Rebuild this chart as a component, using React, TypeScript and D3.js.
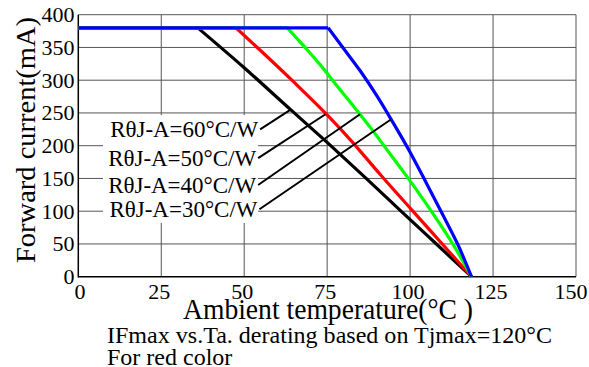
import React from "react";
import * as d3 from "d3";

// ---- data ----
const xTicks = [0, 25, 50, 75, 100, 125, 150];
const yTicks = [0, 50, 100, 150, 200, 250, 300, 350, 400];
const maxCurrent = 380;

// derating curves, from the break point down: [Ta (°C), IF (mA)]
const curve60: [number, number][] = [
  [36, 380], [50, 319], [64, 255], [75, 205], [87, 149], [97.5, 99], [108, 49.5], [118.5, 0],
];
const curve50: [number, number][] = [
  [47.5, 380], [55, 345], [65, 297], [75, 247], [82, 209], [91, 156], [100.5, 102], [109.5, 51], [118.5, 0],
];
const curve40: [number, number][] = [
  [63, 380], [68, 352], [73, 323], [78, 291], [83, 260], [88, 228], [93, 194], [98, 160], [103, 125], [108, 88], [113, 49], [118.5, 0],
];
const curve30: [number, number][] = [
  [75.3, 380], [80, 348], [85, 314], [90, 276], [95, 234], [100, 190], [105, 142], [110, 93], [114.5, 48], [118.5, 0],
];

const seriesNames = ["RθJ-A=60°C/W", "RθJ-A=50°C/W", "RθJ-A=40°C/W", "RθJ-A=30°C/W"];
const seriesColors = ["#000000", "#ff0000", "#00ff00", "#0000ff"];
const seriesData = [curve60, curve50, curve40, curve30];

// leader lines: label-side anchor [Ta, IF] and curve-side point [Ta, IF]
const leaderStart: [number, number][] = [[54.8, 225], [54.2, 181], [54.2, 140], [54.6, 103]];
const leaderEnd: [number, number][] = [[64, 255], [74.5, 248], [84.9, 248], [94.2, 240]];

const xTitle = "Ambient temperature(°C )";
const yTitle = "Forward current(mA)";
const caption1 = "IFmax vs.Ta. derating based on Tjmax=120°C";
const caption2 = "For red color";

const W = 589;
const H = 367;
const FONT = '"Liberation Serif", "Times New Roman", "DejaVu Serif", serif';

export default function App() {
  const x = d3.scaleLinear().domain([0, 150]).range([78.3, 576]);
  const y = d3.scaleLinear().domain([0, 400]).range([276.7, 14.7]);
  const curveLine = d3
    .line<[number, number]>()
    .x((d) => x(d[0]))
    .y((d) => y(d[1]))
    .curve(d3.curveMonotoneX);

  const gridColor = "#555";
  const txt = { fontFamily: FONT, fill: "#000" } as React.CSSProperties;

  return (
    <svg
      width={W}
      height={H}
      style={{ position: "absolute", left: 0, top: 0, background: "#fff", fontFamily: FONT }}
    >
      <rect x={0} y={0} width={W} height={H} fill="#fff" />
      {/* grid */}
      {xTicks.slice(1).map((t) => (
        <line key={"vx" + t} x1={x(t)} x2={x(t)} y1={y(0)} y2={y(400)} stroke={gridColor} strokeWidth={1} />
      ))}
      {yTicks.slice(1).map((t) => (
        <line key={"hy" + t} x1={x(0)} x2={x(150)} y1={y(t)} y2={y(t)} stroke={gridColor} strokeWidth={1} />
      ))}
      {/* white box behind the labels */}
      <rect x={103} y={115} width={155} height={108} fill="#fff" />
      {/* axes */}
      <line x1={x(0)} x2={x(0)} y1={y(0) + 0.75} y2={y(400)} stroke="#000" strokeWidth={1.5} />
      <line x1={x(0)} x2={x(150)} y1={y(0)} y2={y(0)} stroke="#000" strokeWidth={1.5} />

      {/* curves */}
      {seriesData.map((d, i) => (
        <g key={"c" + i}>
          <line
            x1={x(0)}
            x2={x(d[0][0])}
            y1={y(maxCurrent)}
            y2={y(maxCurrent)}
            stroke={seriesColors[i]}
            strokeWidth={3.2}
          />
          <path d={curveLine(d) || ""} fill="none" stroke={seriesColors[i]} strokeWidth={3.2} strokeLinejoin="round" />
        </g>
      ))}

      {/* leader lines and labels */}
      {seriesNames.map((name, i) => {
        const sx = x(leaderStart[i][0]);
        const sy = y(leaderStart[i][1]);
        return (
          <g key={"l" + i}>
            <line x1={sx} y1={sy} x2={x(leaderEnd[i][0])} y2={y(leaderEnd[i][1])} stroke="#000" strokeWidth={2} />
            <text
              x={sx - 2}
              y={sy + 8}
              textAnchor="end"
              fontSize={24}
              textLength={148}
              lengthAdjust="spacingAndGlyphs"
              style={txt}
            >
              {name}
            </text>
          </g>
        );
      })}

      {/* y tick labels */}
      {yTicks.map((t) => (
        <text key={"yt" + t} x={74.5} y={y(t) + 7.5} textAnchor="end" fontSize={22} style={txt}>
          {t}
        </text>
      ))}
      {/* x tick labels */}
      {xTicks.map((t) => (
        <text
          key={"xt" + t}
          x={t === 150 ? 571 : t === 0 ? x(t) + 1.7 : x(t) - 2}
          y={298.5}
          textAnchor="middle"
          fontSize={22}
          style={txt}
        >
          {t}
        </text>
      ))}

      {/* axis titles */}
      <text
        transform={`translate(35,140) rotate(-90)`}
        textAnchor="middle"
        fontSize={28}
        textLength={246}
        lengthAdjust="spacingAndGlyphs"
        style={txt}
      >
        {yTitle}
      </text>
      <text x={183} y={318.5} fontSize={29} textLength={290} lengthAdjust="spacingAndGlyphs" style={txt}>
        {xTitle}
      </text>
      <text x={107} y={342.5} fontSize={24} textLength={445} lengthAdjust="spacingAndGlyphs" style={txt}>
        {caption1}
      </text>
      <text x={107} y={364.5} fontSize={24} style={txt}>
        {caption2}
      </text>
    </svg>
  );
}
